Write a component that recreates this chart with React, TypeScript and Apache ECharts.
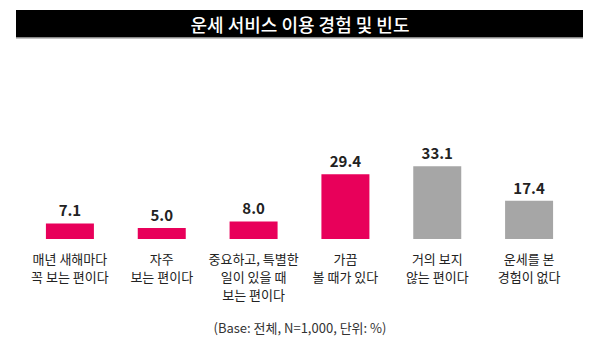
import React, { useEffect, useRef } from "react";
import * as echarts from "echarts";

const categories = [
  "매년 새해마다\n꼭 보는 편이다",
  "자주\n보는 편이다",
  "중요하고, 특별한\n일이 있을 때\n보는 편이다",
  "가끔\n볼 때가 있다",
  "거의 보지\n않는 편이다",
  "운세를 본\n경험이 없다",
];
const values = [7.1, 5.0, 8.0, 29.4, 33.1, 17.4];
const barColors = ["#E8005A", "#E8005A", "#E8005A", "#E8005A", "#A6A6A6", "#A6A6A6"];
const title = "운세 서비스 이용 경험 및 빈도";
const footnote = "(Base: 전체, N=1,000, 단위: %)";

const FONT = "'Noto Sans CJK KR', 'Noto Sans', sans-serif";

export default function App() {
  const ref = useRef<HTMLDivElement>(null);
  useEffect(() => {
    if (!ref.current) return;
    const chart = echarts.init(ref.current, null, { renderer: "svg" });
    chart.setOption({
      animation: false,
      backgroundColor: "#fff",
      graphic: [
        { type: "rect", shape: { x: 16, y: 10, width: 567, height: 27 }, style: { fill: "#000" } },
        { type: "rect", shape: { x: 16, y: 37, width: 567, height: 1.5 }, style: { fill: "#888" } },
        {
          type: "text",
          x: 300,
          y: 23.5,
          style: {
            text: title,
            fill: "#fff",
            font: `500 18px ${FONT}`,
            align: "center",
            verticalAlign: "middle",
          },
        },
        {
          type: "text",
          x: 300,
          y: 327,
          style: {
            text: footnote,
            fill: "#333",
            font: `13px ${FONT}`,
            align: "center",
            verticalAlign: "middle",
          },
        },
      ],
      grid: { left: 24, right: 25, top: 129, bottom: 117, containLabel: false },
      xAxis: {
        type: "category",
        data: categories,
        axisLine: { show: false },
        axisTick: { show: false },
        axisLabel: {
          interval: 0,
          margin: 10,
          color: "#222",
          fontSize: 13,
          lineHeight: 18,
          fontFamily: FONT,
          verticalAlign: "top",
        },
      },
      yAxis: {
        type: "value",
        min: 0,
        max: 50,
        show: false,
        splitLine: { show: false },
      },
      series: [
        {
          type: "bar",
          data: values.map((v, i) => ({ value: v, itemStyle: { color: barColors[i] } })),
          barWidth: 48,
          label: {
            show: true,
            position: "top",
            distance: 6,
            formatter: (p: any) => p.value.toFixed(1),
            color: "#222",
            fontSize: 15,
            fontWeight: "bold",
            fontFamily: FONT,
          },
        },
      ],
    });
    return () => chart.dispose();
  }, []);
  return <div ref={ref} style={{ width: 600, height: 356, position: "absolute", left: 0, top: 0 }} />;
}
